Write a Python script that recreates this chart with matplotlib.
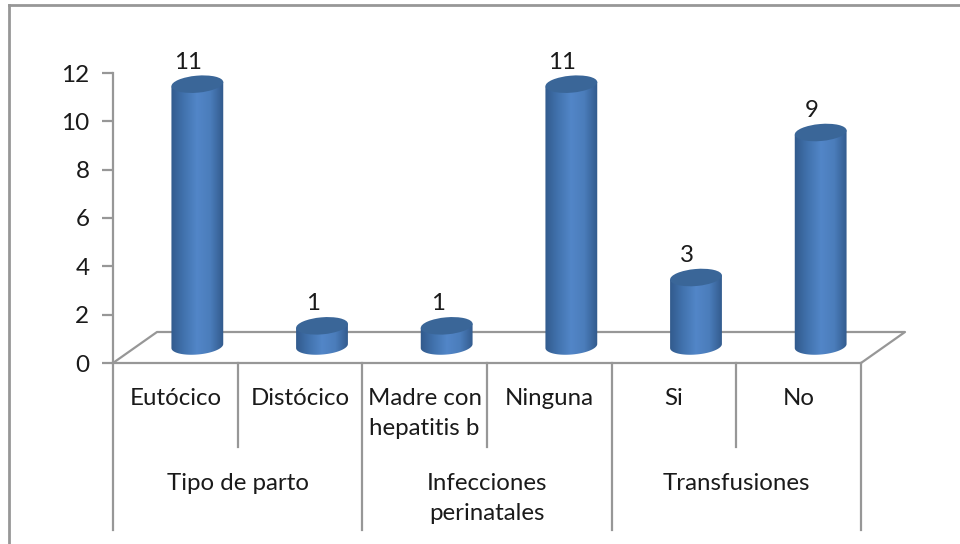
import matplotlib
matplotlib.use('Agg')
import matplotlib.pyplot as plt
import numpy as np
from matplotlib.patches import Ellipse, PathPatch
from matplotlib.path import Path
from matplotlib.colors import LinearSegmentedColormap
from matplotlib.transforms import IdentityTransform

categories = ['Eutócico', 'Distócico', 'Madre con\nhepatitis b', 'Ninguna', 'Si', 'No']
values = [11, 1, 1, 11, 3, 9]
groups = ['Tipo de parto', 'Infecciones\nperinatales', 'Transfusiones']
group_sizes = [2, 2, 2]
y_ticks = [0, 2, 4, 6, 8, 10, 12]

W, H = 960, 544
GRAY = '#979797'
TEXT = '#1a1a1a'
plt.rcParams['font.family'] = ['Lato', 'DejaVu Sans']

fig = plt.figure(figsize=(W / 100, H / 100), dpi=100)
# axes box is the front plane of the 3d chart: x 113-861, y 363 (zero) to 73 (12)
ax = fig.add_axes([113 / W, 1 - 363 / H, 748 / W, 290 / H])
ax.set_xlim(0, 6)
ax.set_ylim(0, 12)
ax.patch.set_visible(False)
for side in ['top', 'right']:
    ax.spines[side].set_visible(False)
for side in ['left', 'bottom']:
    ax.spines[side].set_color(GRAY)
    ax.spines[side].set_linewidth(1.6)
ax.set_xticks([])
ax.set_yticks(y_ticks)
ax.tick_params(axis='y', length=8, width=1.6, color=GRAY, labelsize=17.5, labelcolor=TEXT, pad=9)

def to_px(x, y):
    return ax.transData.transform((x, y))

def line_px(xs, ys, lw=1.6):
    # pixel coordinates measured from the top of the image, drawn behind the axes
    fig.add_artist(plt.Line2D(np.array(xs) / W, 1 - np.array(ys) / H, color=GRAY, lw=lw, zorder=-1))

def label_px(x, y, s, **kw):
    ax.text(x, H - y, s, transform=IdentityTransform(), ha='center', color=TEXT, fontsize=17.3,
            clip_on=False, **kw)

# outer chart frame, cut off by the image on the right and at the bottom
line_px([9, 9], [544, 5], lw=2)
line_px([9, 960], [5, 5], lw=2)

# floor of the 3d box
line_px([113, 157, 905, 861], [363, 332, 332, 363])

# axis tiers under the chart
for i in range(len(categories) + 1):
    x0, _ = to_px(i, 0)
    line_px([x0, x0], [363, 530 if i % 2 == 0 else 447])
for i, label in enumerate(categories):
    x, _ = to_px(i + 0.5, 0)
    label_px(x, 388, label, va='top', linespacing=1.55)
pos = 0
for label, size in zip(groups, group_sizes):
    x, _ = to_px(pos + size / 2, 0)
    label_px(x, 473, label, va='top', linespacing=1.55)
    pos += size

# cylinders
cmap = LinearSegmentedColormap.from_list('cyl', ['#31598b', '#4172ad', '#5286c8', '#4b7dbb', '#31598b'])
gradient = np.linspace(0, 1, 128).reshape(1, -1)
bar_w = 52
ell_h = 17
tilt = np.radians(5)
for i, v in enumerate(values):
    cx0, y0 = to_px(i + 0.5, 0)
    cx = cx0 + 22
    _, y1 = to_px(i + 0.5, v)
    yb = y0 + 17
    yt = y1 + 13
    # body outline: lower half of the base ellipse, then straight up to the top
    t = np.linspace(np.pi, 2 * np.pi, 40)
    ex = bar_w / 2 * np.cos(t)
    ey = ell_h / 2 * np.sin(t)
    bx = cx + ex * np.cos(tilt) - ey * np.sin(tilt)
    by = yb + ex * np.sin(tilt) + ey * np.cos(tilt)
    verts = list(zip(bx, by)) + [(bx[-1], yt + bar_w / 2 * np.sin(tilt)), (bx[0], yt - bar_w / 2 * np.sin(tilt))]
    verts.append(verts[0])
    codes = [Path.MOVETO] + [Path.LINETO] * (len(verts) - 2) + [Path.CLOSEPOLY]
    body = PathPatch(Path(verts, codes), transform=IdentityTransform(), fc='none', ec='none', clip_on=False)
    ax.add_patch(body)
    inv = ax.transData.inverted()
    left, low = inv.transform((cx - bar_w / 2 - 1, yb - 14))
    right, high = inv.transform((cx + bar_w / 2 + 1, yt + 14))
    im = ax.imshow(gradient, cmap=cmap, aspect='auto', extent=[left, right, low, high], zorder=3,
                   interpolation='bilinear')
    im.set_clip_path(body)
    ax.add_patch(Ellipse((cx, yt), bar_w, ell_h, angle=5, transform=IdentityTransform(), fc='#3a6698',
                         ec='none', zorder=4, clip_on=False))
    label_px(cx - 9, H - yt - 22, str(v), va='center')
ax.set_xlim(0, 6)
ax.set_ylim(0, 12)

fig.savefig('out.png', dpi=100)
